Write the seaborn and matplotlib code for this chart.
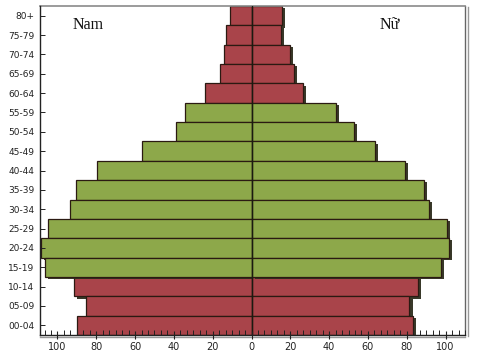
import matplotlib
matplotlib.use("Agg")
import matplotlib.pyplot as plt
import matplotlib.patheffects as pe
from matplotlib.ticker import MultipleLocator, FuncFormatter
import seaborn as sns
import pandas as pd

ages = ["80+", "75-79", "70-74", "65-69", "60-64", "55-59", "50-54", "45-49",
        "40-44", "35-39", "30-34", "25-29", "20-24", "15-19", "10-14", "05-09", "00-04"]
male = [11, 13.3, 14.2, 16.4, 24, 34.2, 38.8, 56.3, 79.6, 90.6, 93.7, 105, 108.5, 106.5, 91.6, 85.5, 89.7]
female = [15.5, 15.2, 19.8, 22, 26.7, 43.4, 52.8, 63.6, 79.3, 88.7, 91.3, 100.7, 101.9, 97.8, 85.8, 81.4, 83.4]
group = ["dep"] * 5 + ["work"] * 9 + ["dep"] * 3
side_labels = ["Nam", "Nữ"]

df_m = pd.DataFrame({"age": ages, "value": [-v for v in male], "grp": group})
df_f = pd.DataFrame({"age": ages, "value": female, "grp": group})
palette = {"dep": "#A9444A", "work": "#8DA84A"}

sns.set_style("white")
fig = plt.figure(figsize=(4.8, 3.54), dpi=100)
ax = fig.add_axes([40 / 480, 1 - 335 / 354, 425 / 480, 329 / 354])

for d in (df_m, df_f):
    sns.barplot(data=d, x="value", y="age", hue="grp", order=ages, palette=palette,
                dodge=False, width=1.0, legend=False, orient="h",
                edgecolor="#2b1a12", linewidth=0.9, ax=ax, saturation=1)

for p in ax.patches:
    p.set_zorder(1)
    p.set_path_effects([pe.SimplePatchShadow(offset=(2.2, -1.6), shadow_rgbFace="#2e2e1e", alpha=0.95),
                        pe.Normal()])

ax.axvline(0, color="#1a1a10", lw=1.0, zorder=5)
ax.set_xlim(-109, 110)
ax.set_ylim(len(ages) - 0.5, -0.5)
ax.set_xlabel("")
ax.set_ylabel("")
ax.xaxis.set_zorder(10)
ax.yaxis.set_zorder(10)

ax.xaxis.set_major_locator(MultipleLocator(20))
ax.xaxis.set_minor_locator(MultipleLocator(20 / 6))
ax.xaxis.set_major_formatter(FuncFormatter(lambda v, _: f"{abs(int(round(v)))}"))
ax.tick_params(axis="x", which="major", direction="inout", length=6, width=0.8,
               labelsize=7, pad=2, colors="#222222", bottom=True)
ax.tick_params(axis="x", which="minor", direction="in", length=3.5, width=0.7,
               color="#222222", bottom=True)
ax.tick_params(axis="y", which="major", direction="in", length=3.5, width=0.7,
               labelsize=6.5, pad=4, colors="#222222", left=True)
for lab in ax.get_xticklabels() + ax.get_yticklabels():
    lab.set_color("#222222")

for s in ("left", "bottom"):
    ax.spines[s].set_color("#222222")
    ax.spines[s].set_linewidth(1.0)
    ax.spines[s].set_zorder(6)
ax.spines["bottom"].set_path_effects([pe.SimpleLineShadow(offset=(0, -1.5), shadow_color="#999999", alpha=1), pe.Normal()])
ax.spines["top"].set_color("#8a8a8a")
ax.spines["top"].set_linewidth(1.2)
ax.spines["right"].set_color("#666666")
ax.spines["right"].set_linewidth(1.0)
ax.spines["right"].set_path_effects([pe.SimpleLineShadow(offset=(2, -1), shadow_color="#999999", alpha=1), pe.Normal()])

ax.text(-84, 0.5, side_labels[0], ha="center", va="center", fontsize=11.5,
        family="Liberation Serif", color="#111111")
ax.text(71, 0.5, side_labels[1], ha="center", va="center", fontsize=11.5,
        family="Liberation Serif", color="#111111")

fig.savefig("out.png", dpi=100)
